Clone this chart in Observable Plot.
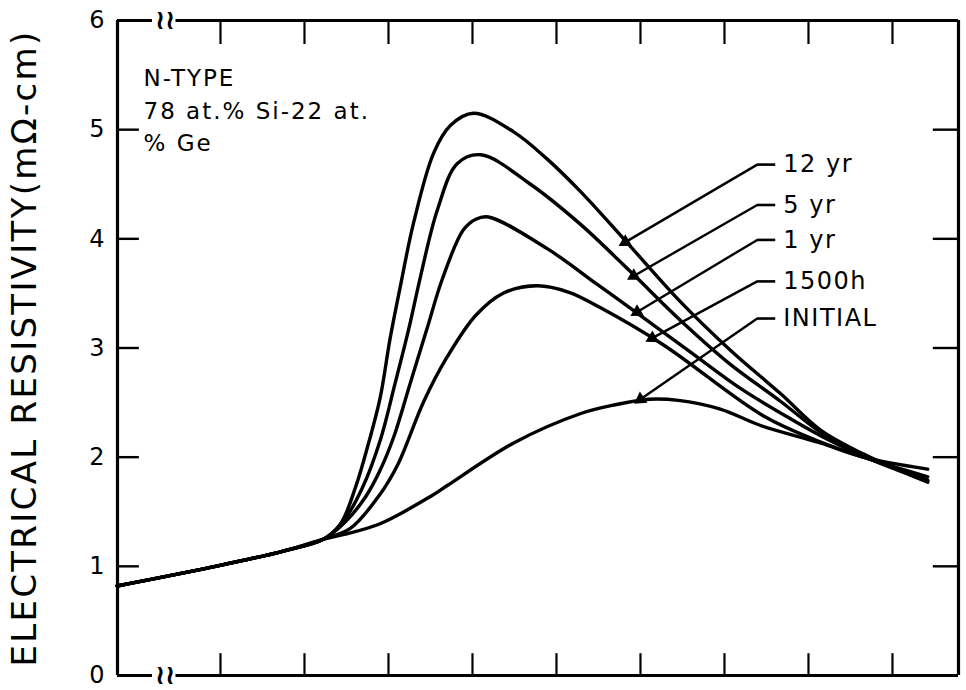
<!DOCTYPE html>
<html>
<head>
<meta charset="utf-8">
<script src="https://cdn.jsdelivr.net/npm/d3@7"></script>
<script src="https://cdn.jsdelivr.net/npm/@observablehq/plot@0.6"></script>
<style>
  html, body { margin: 0; padding: 0; background: #fff; }
  svg { font-family: "DejaVu Sans", sans-serif; }
</style>
</head>
<body>
<div id="chart"></div>
<script>
// ---- axis / tick data ----
const xDomain = [-0.226, 9.786];
const xTicks = [1, 2, 3, 4, 5, 6, 7, 8, 9];
const yTicks = [0, 1, 2, 3, 4, 5, 6];
const yInnerTicks = [1, 2, 3, 4, 5];
const breakGap = [0.19, 0.47];
const breakMark = 0.34;

// ---- series (x in tick units, y in mΩ-cm) ----
const commonX = [-0.23, 0.88, 1.75, 2.23];
const commonY = [0.82, 0.99, 1.14, 1.25];

const initialX = [2.46, 2.90, 3.50, 3.70, 4.49, 5.29, 5.70, 6.10, 6.45, 6.95, 7.43, 8.14, 8.65, 9.42];
const initialY = [1.29, 1.39, 1.64, 1.74, 2.13, 2.40, 2.48, 2.53, 2.52, 2.44, 2.29, 2.13, 2.00, 1.89];

const h1500X = [2.55, 2.90, 3.11, 3.42, 3.70, 4.04, 4.36, 4.77, 5.15, 5.52, 6.27, 7.46, 8.14, 8.65, 9.42];
const h1500Y = [1.35, 1.66, 1.93, 2.51, 2.92, 3.30, 3.50, 3.57, 3.51, 3.37, 3.03, 2.38, 2.14, 2.00, 1.82];

const yr1X = [2.49, 2.73, 2.90, 3.06, 3.26, 3.46, 3.64, 3.89, 4.04, 4.19, 4.89, 5.49, 5.96, 6.60, 7.19, 7.79, 8.26, 8.65, 9.42];
const yr1Y = [1.41, 1.64, 1.88, 2.18, 2.68, 3.18, 3.63, 4.08, 4.18, 4.20, 3.91, 3.58, 3.32, 2.96, 2.63, 2.35, 2.15, 2.01, 1.79];

const yr5X = [2.45, 2.69, 2.90, 3.08, 3.24, 3.38, 3.58, 3.82, 4.10, 4.69, 5.29, 5.88, 6.48, 7.07, 7.67, 8.14, 8.65, 9.42];
const yr5Y = [1.40, 1.72, 2.15, 2.68, 3.17, 3.65, 4.26, 4.69, 4.77, 4.50, 4.13, 3.70, 3.25, 2.85, 2.51, 2.23, 2.01, 1.78];

const yr12X = [2.43, 2.61, 2.76, 2.90, 3.02, 3.14, 3.30, 3.54, 3.74, 4.01, 4.49, 4.89, 5.29, 5.80, 6.48, 7.07, 7.67, 8.14, 8.65, 9.42];
const yr12Y = [1.39, 1.73, 2.12, 2.54, 3.09, 3.56, 4.15, 4.79, 5.04, 5.15, 4.98, 4.73, 4.43, 4.00, 3.42, 2.98, 2.58, 2.25, 2.03, 1.77];

// ---- labels ----
const labelNames = ["12 yr", "5 yr", "1 yr", "1500h", "INITIAL"];
const labelY = [4.68, 4.31, 3.99, 3.61, 3.27];
const leaderElbowX = 7.39;
const leaderEndX = 7.61;
const labelTextX = 7.70;
const tipX = [5.82, 5.92, 5.96, 6.14, 6.00];
const tipY = [3.97, 3.66, 3.33, 3.09, 2.53];

const yTitle = "ELECTRICAL RESISTIVITY(mΩ-cm)";
const note = "N-TYPE\n78 at.% Si-22 at.\n% Ge";

// ---- build table ----
function series(name, xs, ys) {
  const pts = commonX.map((x, i) => ({series: name, x, y: commonY[i]}));
  xs.forEach((x, i) => pts.push({series: name, x, y: ys[i]}));
  return pts;
}
const data = [
  ...series("INITIAL", initialX, initialY),
  ...series("1500h", h1500X, h1500Y),
  ...series("1 yr", yr1X, yr1Y),
  ...series("5 yr", yr5X, yr5Y),
  ...series("12 yr", yr12X, yr12Y)
];

const W = 966, H = 690, ML = 117, MR = 8, MT = 20, MB = 15;
const pxPerX = (W - ML - MR) / (xDomain[1] - xDomain[0]);
const pxPerY = (H - MT - MB) / 6;
const labels = labelNames.map((name, i) => {
  const dx = (tipX[i] - leaderElbowX) * pxPerX;
  const dy = -(tipY[i] - labelY[i]) * pxPerY;
  const angle = Math.atan2(dy, dx) * 180 / Math.PI;
  return {name, y: labelY[i], tx: tipX[i], ty: tipY[i], rot: angle + 90};
});

const xMin = xDomain[0], xMax = xDomain[1];
const AX = 3.2;

const chart = Plot.plot({
  width: W,
  height: H,
  marginLeft: ML,
  marginRight: MR,
  marginTop: MT,
  marginBottom: MB,
  x: {domain: xDomain, axis: null},
  y: {domain: [0, 6], axis: null},
  marks: [
    // frame
    Plot.ruleX([xMin, xMax], {stroke: "black", strokeWidth: AX}),
    Plot.ruleY([0, 6], {x1: xMin, x2: breakGap[0], stroke: "black", strokeWidth: AX}),
    Plot.ruleY([0, 6], {x1: breakGap[1], x2: xMax, stroke: "black", strokeWidth: AX}),
    Plot.text([0, 6], {x: breakMark, y: d => d, text: () => "≀≀", fontSize: 27, fontWeight: "bold", fill: "black"}),
    // inner ticks
    Plot.ruleX(xTicks, {y1: 0, y2: 0.2, stroke: "black", strokeWidth: 2.2}),
    Plot.ruleX(xTicks, {y1: 6, y2: 5.78, stroke: "black", strokeWidth: 2.2}),
    Plot.ruleY(yInnerTicks, {x1: xMin, x2: xMin + 0.26, stroke: "black", strokeWidth: 2.4}),
    Plot.ruleY(yInnerTicks, {x1: xMax - 0.3, x2: xMax, stroke: "black", strokeWidth: 2.4}),
    // tick labels
    Plot.text(yTicks, {x: xMin, y: d => d, text: d => String(d), textAnchor: "end", dx: -13, fontSize: 24, fill: "black"}),
    // y title
    Plot.text([yTitle], {frameAnchor: "left", textAnchor: "middle", rotate: -90, dx: -92, text: d => d, fontSize: 34, fill: "black", ariaLabel: () => "ytitle"}),
    // note
    Plot.text([note], {frameAnchor: "top-left", dx: 26, dy: 43, lineAnchor: "top", lineHeight: 1.4, text: d => d, textAnchor: "start", fontSize: 23, fill: "black", ariaLabel: () => "note"}),
    // curves
    Plot.line(data, {x: "x", y: "y", z: "series", curve: "catmull-rom", stroke: "black", strokeWidth: 3.4}),
    // leaders
    Plot.ruleY(labels, {y: "y", x1: leaderElbowX, x2: leaderEndX, stroke: "black", strokeWidth: 2.6}),
    Plot.link(labels, {x1: leaderElbowX, y1: "y", x2: "tx", y2: "ty", stroke: "black", strokeWidth: 2.4}),
    Plot.dot(labels, {x: "tx", y: "ty", symbol: "triangle", r: 5, fill: "black", stroke: "none", rotate: "rot"}),
    Plot.text(labels, {x: labelTextX, y: "y", text: "name", textAnchor: "start", fontSize: 24, fill: "black", ariaLabel: () => "labels"})
  ]
});

function spacing(label, value) {
  chart.querySelectorAll(`[aria-label="${label}"]`).forEach(el => {
    el.setAttribute("letter-spacing", value);
    el.querySelectorAll("text, tspan").forEach(t => t.setAttribute("letter-spacing", value));
  });
}
spacing("ytitle", "2.3");
spacing("note", "2");
spacing("labels", "1.5");

document.getElementById("chart").appendChild(chart);
</script>
</body>
</html>
